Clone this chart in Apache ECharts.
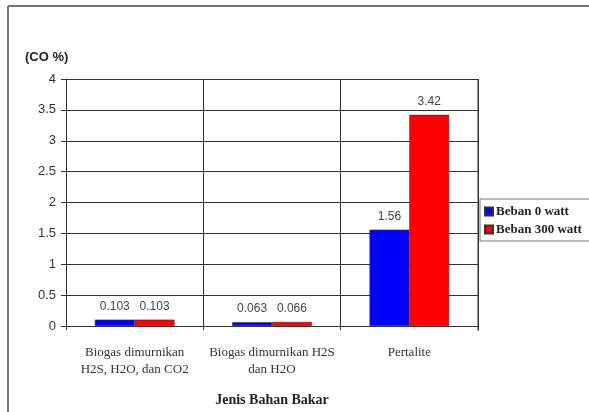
<!DOCTYPE html>
<html>
<head>
<meta charset="utf-8">
<script src="https://cdn.jsdelivr.net/npm/echarts@6/dist/echarts.min.js"></script>
<style>
  html, body { margin: 0; padding: 0; background: #fff; }
  #chart { width: 589px; height: 412px; }
</style>
</head>
<body>
<div id="chart"></div>
<script>
// Fuel types on the x axis
const categories = [
  'Biogas dimurnikan\nH2S, H2O, dan CO2',
  'Biogas dimurnikan H2S\ndan H2O',
  'Pertalite'
];
// CO concentration (%) per load
const seriesNames = ['Beban 0 watt', 'Beban 300 watt'];
const beban0 = [0.103, 0.063, 1.56];
const beban300 = [0.103, 0.066, 3.42];
const seriesColors = ['#0000FF', '#FF0000'];

const chart = echarts.init(document.getElementById('chart'), null, { renderer: 'canvas' });

const sansFont = '"Liberation Sans", Arial, sans-serif';
const serifFont = '"Liberation Serif", "Times New Roman", serif';

function barSeries(name, data, color) {
  return {
    name: name,
    type: 'bar',
    data: data,
    barGap: '0%',
    barCategoryGap: '42%',
    itemStyle: { color: color, borderColor: '#333', borderWidth: 0.6 },
    label: {
      show: true,
      position: 'top',
      distance: 7,
      fontFamily: sansFont,
      fontSize: 12,
      color: '#444'
    }
  };
}

chart.setOption({
  animation: false,
  backgroundColor: '#fff',
  grid: { left: 66, right: 111, top: 79, bottom: 85, containLabel: false },
  legend: {
    orient: 'vertical',
    left: 480,
    top: 199,
    data: seriesNames,
    icon: 'rect',
    itemWidth: 8,
    itemHeight: 8,
    itemGap: 5,
    padding: [6, 10, 5, 4],
    borderColor: '#777',
    borderWidth: 1,
    textStyle: { fontFamily: serifFont, fontWeight: 'bold', fontSize: 13, color: '#222', padding: [0, 0, 0, -2] }
  },
  xAxis: {
    type: 'category',
    data: categories,
    name: 'Jenis Bahan Bakar',
    nameLocation: 'middle',
    nameGap: 67,
    nameTextStyle: { fontFamily: serifFont, fontWeight: 'bold', fontSize: 14, color: '#222' },
    axisLine: { show: true, lineStyle: { color: '#333', width: 1 } },
    axisTick: { show: true, length: 4, lineStyle: { color: '#333' } },
    axisLabel: { fontFamily: serifFont, fontSize: 13, color: '#333', margin: 18, lineHeight: 17, interval: 0 },
    splitLine: { show: true, lineStyle: { color: '#333', width: 1 } }
  },
  yAxis: {
    type: 'value',
    min: 0,
    max: 4,
    interval: 0.5,
    axisLine: { show: true, lineStyle: { color: '#333', width: 1 } },
    axisTick: { show: true, length: 5, lineStyle: { color: '#333' } },
    axisLabel: { fontFamily: sansFont, fontSize: 13, color: '#333', margin: 10 },
    splitLine: { show: true, lineStyle: { color: '#333', width: 1 } }
  },
  graphic: [
    // frame around the figure (top and left edges)
    { type: 'line', shape: { x1: 8, y1: 6, x2: 589, y2: 6 }, style: { stroke: '#777', lineWidth: 2 } },
    { type: 'line', shape: { x1: 8, y1: 6, x2: 8, y2: 412 }, style: { stroke: '#777', lineWidth: 2 } },
    // right border of the plot area
    { type: 'line', shape: { x1: 478, y1: 79, x2: 478, y2: 331 }, style: { stroke: '#333', lineWidth: 1 } },
    // y-axis unit title
    { type: 'text', left: 25, top: 51, style: { text: '(CO %)', font: 'bold 13px ' + sansFont, fill: '#222' } }
  ],
  series: [
    barSeries(seriesNames[0], beban0, seriesColors[0]),
    barSeries(seriesNames[1], beban300, seriesColors[1])
  ]
});
</script>
</body>
</html>
